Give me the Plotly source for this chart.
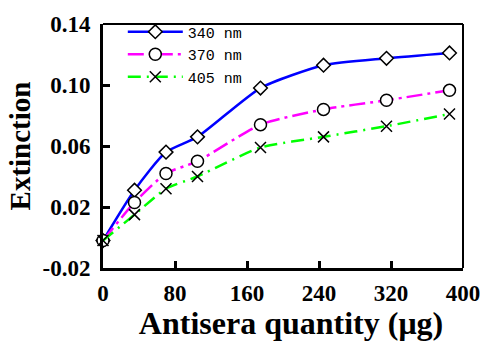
import plotly.graph_objects as go

x_vals = [0, 35, 70, 105, 175, 245, 315, 385]
ext_340 = [-0.002, 0.031, 0.056, 0.066, 0.098, 0.113, 0.1175, 0.121]
ext_370 = [-0.002, 0.023, 0.042, 0.050, 0.074, 0.084, 0.090, 0.0965]
ext_405 = [-0.002, 0.015, 0.032, 0.040, 0.059, 0.066, 0.073, 0.081]
names = ["340 nm", "370 nm", "405 nm"]

y_ticks = [-0.02, 0.02, 0.06, 0.10, 0.14]
x_ticks = [0, 80, 160, 240, 320, 400]

fig = go.Figure()
styles = [
    (ext_340, "#0000ff", "solid", "diamond", 10.5),
    (ext_370, "#ff00ff", "16px,5px,3px,5px", "circle", 12),
    (ext_405, "#00ff00", "13px,6px,2px,6px", "x-thin", 11),
]
for (ys, col, dash, sym, ms), nm in zip(styles, names):
    fig.add_trace(go.Scatter(
        x=x_vals, y=ys, name=nm, mode="lines+markers",
        line=dict(color=col, width=2.5, dash=dash, shape="spline", smoothing=0.6),
        marker=dict(symbol=sym, size=ms, color="white",
                    line=dict(color="black", width=1.5)),
        cliponaxis=False,
    ))

fig.update_layout(
    width=492, height=341,
    margin=dict(l=103, r=20, t=16, b=73),
    plot_bgcolor="white", paper_bgcolor="white",
    showlegend=True,
    legend=dict(x=0.055, y=1.035, xanchor="left", yanchor="top",
                bgcolor="rgba(0,0,0,0)", borderwidth=0,
                font=dict(family="Liberation Mono", size=15, color="black"),
                tracegroupgap=0, itemwidth=55),
    font=dict(family="Liberation Serif", color="black"),
)
fig.update_xaxes(
    range=[0, 400], tickvals=x_ticks, ticktext=[str(v) for v in x_ticks],
    ticks="inside", ticklen=7, tickwidth=3, tickcolor="black",
    showline=True, linewidth=3, linecolor="black", mirror=False,
    showgrid=False, zeroline=False, ticklabelstandoff=2,
    tickfont=dict(family="Liberation Serif", size=23, color="black", weight="bold"),
    title=dict(text="<b>&nbsp;&nbsp;Antisera quantity (μg)</b>",
               font=dict(family="Liberation Serif", size=32, color="black"), standoff=1),
)
fig.update_yaxes(
    range=[-0.02, 0.14], tickvals=y_ticks, ticktext=["%.2f" % v for v in y_ticks],
    ticks="inside", ticklen=7, tickwidth=3, tickcolor="black",
    showline=True, linewidth=3, linecolor="black", mirror=False,
    showgrid=False, zeroline=False, ticklabelstandoff=5,
    tickfont=dict(family="Liberation Serif", size=23, color="black", weight="bold"),
    title=dict(text="<b>Extinction</b>",
               font=dict(family="Liberation Serif", size=29, color="black"), standoff=4),
)
# thinner top and right frame
fig.add_shape(type="line", xref="paper", yref="paper", x0=0, x1=1, y0=1, y1=1,
              line=dict(color="black", width=2))
fig.add_shape(type="line", xref="paper", yref="paper", x0=1, x1=1, y0=0, y1=1,
              line=dict(color="black", width=2))

fig.write_html("out.html")
